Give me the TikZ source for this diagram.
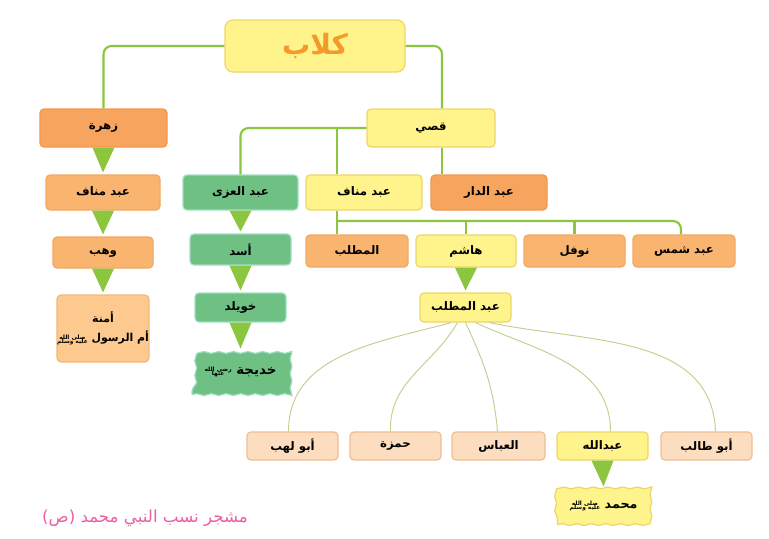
\documentclass[tikz,border=0pt]{standalone}
\usepackage{fontspec}
\usetikzlibrary{decorations.pathmorphing,calc,backgrounds}
\TeXXeTstate=1
\newfontfamily\ar[Script=Arabic]{DejaVu Sans}
\definecolor{yfill}{HTML}{FFF38C}
\definecolor{ydraw}{HTML}{EED66A}
\definecolor{ofill}{HTML}{F7A45E}
\definecolor{odraw}{HTML}{F09850}
\definecolor{mfill}{HTML}{F9B570}
\definecolor{mdraw}{HTML}{F2A862}
\definecolor{lfill}{HTML}{FDC98E}
\definecolor{ldraw}{HTML}{F2B877}
\definecolor{pfill}{HTML}{FCDDBF}
\definecolor{pdraw}{HTML}{EFBE93}
\definecolor{gfill}{HTML}{6EC183}
\definecolor{gdraw}{HTML}{A5DCC6}
\definecolor{linkc}{HTML}{8CC63F}
\definecolor{thinc}{HTML}{C9CC8E}
\definecolor{kilabc}{HTML}{F39A2B}
\definecolor{pinkc}{HTML}{EC5FA5}
\newcommand{\salla}{{\fontsize{4.4}{4.7}\selectfont\begin{tabular}{@{}c@{}}\beginR صلى الله\endR\\[-1.8pt]\beginR عليه وسلم\endR\end{tabular}}}
\tikzset{
  base/.style={rounded corners=3pt, line width=0.9pt, inner sep=0pt,
    font=\ar\bfseries\fontsize{8.8}{10.5}\selectfont, text=black},
  sz/.style 2 args={minimum width=#1*0.75pt, minimum height=#2*0.75pt},
  ybox/.style={base, fill=yfill, draw=ydraw},
  obox/.style={base, fill=ofill, draw=odraw},
  mbox/.style={base, fill=mfill, draw=mdraw},
  lbox/.style={base, fill=lfill, draw=ldraw},
  pbox/.style={base, fill=pfill, draw=pdraw},
  gbox/.style={base, fill=gfill, draw=gdraw},
  tbox/.style={base, fill=none, draw=none},
  wavyline/.style={line width=0.9pt, decorate, decoration={snake, segment length=11pt, amplitude=0.7pt}},
  link/.style={draw=linkc, line width=1.6pt, rounded corners=6pt},
  thin/.style={draw=thinc, line width=0.7pt},
  tri/.style={fill=linkc},
}
\begin{document}
\begin{tikzpicture}[x=0.75pt,y=-0.75pt]
\begin{scope}[on background layer]
\fill[white] (0,0) rectangle (769,539);
\end{scope}
\useasboundingbox (0,0) rectangle (769,539);
% nodes
\node[ybox, sz={180}{52}, rounded corners=6pt, font=\ar\bfseries\fontsize{21}{24}\selectfont, text=kilabc] (kilab) at (315,46) {\beginR كلاب\endR};
\node[obox, sz={127}{38}] (zuhra) at (103.5,128) {\beginR زهرة\endR};
\node[mbox, sz={114}{35}] (manafL) at (103,192.5) {\beginR عبد مناف\endR};
\node[mbox, sz={100}{31}] (wahb) at (103,252.5) {\beginR وهب\endR};
\node[lbox, sz={90}{67}, align=center, font=\ar\bfseries\fontsize{8.2}{10}\selectfont] (amina) at (103,328.5) {\beginR أمنة\endR\\[4pt]\beginR أم الرسول \salla\endR};
\node[ybox, sz={128}{38}] (qusay) at (431,128) {\beginR قصي\endR};
\node[gbox, sz={115}{35}] (uzza) at (240.5,192.5) {\beginR عبد العزى\endR};
\node[ybox, sz={116}{35}] (manafM) at (364,192.5) {\beginR عبد مناف\endR};
\node[obox, sz={116}{35}] (dar) at (489,192.5) {\beginR عبد الدار\endR};
\node[gbox, sz={101}{31}] (asad) at (240.5,249.5) {\beginR أسد\endR};
\node[gbox, sz={91}{29}] (khuw) at (240.5,307.5) {\beginR خويلد\endR};
\node[tbox, sz={93}{43}, font=\ar\bfseries\fontsize{10}{11}\selectfont] (khad) at (240.5,372.5) {\beginR خديجة {\fontsize{4.4}{4.7}\selectfont\begin{tabular}{@{}c@{}}\beginR رضي الله\endR\\[-1.8pt]\beginR عنها\endR\end{tabular}}\endR};
\node[mbox, sz={102}{32}] (mutt) at (357,251) {\beginR المطلب\endR};
\node[ybox, sz={100}{32}] (hashim) at (466,251) {\beginR هاشم\endR};
\node[mbox, sz={101}{32}] (nawfal) at (574.5,251) {\beginR نوفل\endR};
\node[mbox, sz={102}{32}] (shams) at (684,251) {\beginR عبد شمس\endR};
\node[ybox, sz={91}{29}] (am) at (465.5,307.5) {\beginR عبد المطلب\endR};
\node[pbox, sz={91}{28}] (lahab) at (292.5,446) {\beginR أبو لهب\endR};
\node[pbox, sz={91}{28}] (hamza) at (395.5,446) {\beginR حمزة\endR};
\node[pbox, sz={93}{28}] (abbas) at (498.5,446) {\beginR العباس\endR};
\node[ybox, sz={91}{28}] (abdallah) at (602.5,446) {\beginR عبدالله\endR};
\node[pbox, sz={91}{28}] (talib) at (706.5,446) {\beginR أبو طالب\endR};
\node[tbox, sz={91}{35}, font=\ar\bfseries\fontsize{9.5}{11}\selectfont] (muh) at (603.5,506.5) {\beginR محمد \salla\endR};
\node[font=\ar\fontsize{12.5}{14}\selectfont, text=pinkc] (cap) at (145,518) {\beginR مشجر نسب النبي محمد (ص)\endR};
% wavy banner shapes behind text
\begin{scope}[on background layer]
\path[wavyline, fill=gfill, draw=gdraw] ([xshift=-1pt]khad.south west) -- ([xshift=-1pt]khad.south east) -- ([xshift=-1pt]khad.north east) -- ([xshift=-1pt]khad.north west) -- cycle;
\path[wavyline, fill=yfill, draw=ydraw] (muh.south west) -- (muh.south east) -- (muh.north east) -- (muh.north west) -- cycle;
\end{scope}
% junction coordinates
\coordinate (j1) at (337,128);
\coordinate (j2) at (337,221);
% green links
\draw[link] (kilab.west) -| (zuhra.north);
\draw[link] (kilab.east) -| ([xshift=11*0.75pt]qusay.north);
\draw[link] ([xshift=11*0.75pt]qusay.south) -- ([xshift=11*0.75pt]qusay.south |- dar.north);
\draw[link] (qusay.west) -| (uzza.north);
\draw[link, rounded corners=0pt] (j1) -- (j1 |- manafM.north);
\draw[link, rounded corners=0pt] (j1 |- manafM.south) -- (j1 |- mutt.north);
\draw[link] (j2) -| ([xshift=-3*0.75pt]shams.north);
\draw[link] (hashim.north |- j2) -- (hashim.north);
\draw[link] (nawfal.north |- j2) -- (nawfal.north);
% triangles
\foreach \a/\b in {zuhra/manafL, manafL/wahb, wahb/amina, uzza/asad, asad/khuw, khuw/khad, hashim/am, abdallah/muh}{
  \fill[tri] ([xshift=-11*0.75pt]\a.south) -- ([xshift=11*0.75pt]\a.south) -- ([yshift=2*0.75pt]\b.north) -- cycle;
}
% thin curves
\draw[thin] ([xshift=-14*0.75pt]am.south) to[out=195,in=90] ([xshift=-4*0.75pt]lahab.north);
\draw[thin] ([xshift=-8*0.75pt]am.south) to[out=240,in=92] ([xshift=-5*0.75pt]hamza.north);
\draw[thin] ([xshift=0*0.75pt]am.south) to[out=-65,in=95] ([xshift=-1*0.75pt]abbas.north);
\draw[thin] ([xshift=10*0.75pt]am.south) to[out=-25,in=90] ([xshift=8*0.75pt]abdallah.north);
\draw[thin] ([xshift=24*0.75pt]am.south) to[out=-12,in=92] ([xshift=9*0.75pt]talib.north);
\end{tikzpicture}
\end{document}
